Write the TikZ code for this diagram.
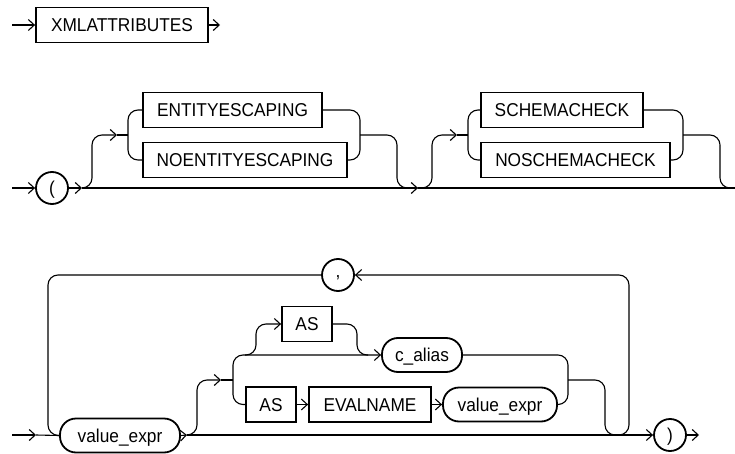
\documentclass[tikz,border=0pt]{standalone}
\usepackage{fontspec}
\setmainfont{Liberation Sans}[FakeStretch=0.93]
\usetikzlibrary{arrows.meta}
\begin{document}
\begin{tikzpicture}[x=1pt,y=-1pt,
  font=\fontsize{18.6}{21}\selectfont,
  line width=1.1pt,
  arr/.style={-{Straight Barb[length=6pt,width=11pt]}},
  rc/.style={rounded corners=10pt},
  kw/.style={draw, line width=1.8pt, rectangle, inner sep=0pt, minimum height=35pt, text height=13.3pt, text depth=0pt},
  nt/.style={draw, line width=1.8pt, rounded corners=16pt, inner sep=0pt, minimum height=34pt, text height=13.3pt, text depth=0pt},
  tm/.style={draw, line width=1.8pt, circle, inner sep=0pt, minimum size=32pt, text height=13.3pt, text depth=0pt}]
\useasboundingbox (0,0) rectangle (735,454);

% Row 1
\coordinate (s1) at (12,25);
\node[kw, minimum width=172pt] (xml) at (122,25) {XMLATTRIBUTES};
\coordinate (e1) at (220,25);
\draw[arr] (s1) -- (xml.west);
\draw[arr] (xml.east) -- (e1);

% Row 2
\coordinate (s2) at (12,188);
\node[tm] (lp) at (52,188) {(};
\coordinate (a2) at (82,188);
\coordinate (m1) at (418,188);
\coordinate (e2) at (735,188);
\draw[arr] (s2) -- (lp.west);
\draw[arr] (lp.east) -- (a2);
\draw[arr] (a2) -- (m1);
\draw (m1) -- (e2);

\node[kw, minimum width=179pt] (ent) at (232.5,110) {ENTITYESCAPING};
\node[kw, minimum width=204pt] (noent) at (245,160) {NOENTITYESCAPING};
\coordinate (b1in) at (117,135);
\coordinate (b1l) at (128,135);
\coordinate (b1r) at (360,135);
\draw[rc, arr] (a2) -- (92,188) -- (92,135) -- (b1in);
\draw (b1in) -- (b1l);
\draw[rc] (ent.west) -- (128,110) -- (128,160) -- (noent.west);
\draw[rc] (ent.east) -- (360,110) -- (360,160) -- (noent.east);
\draw[rc] (b1r) -- (397,135) -- (397,188) -- (m1);

\node[kw, minimum width=162pt] (sch) at (562,110) {SCHEMACHECK};
\node[kw, minimum width=189pt] (nosch) at (575.5,160) {NOSCHEMACHECK};
\coordinate (b2in) at (457,135);
\coordinate (b2l) at (468,135);
\coordinate (b2r) at (683,135);
\draw[rc, arr] (m1) -- (432,188) -- (432,135) -- (b2in);
\draw (b2in) -- (b2l);
\draw[rc] (sch.west) -- (468,110) -- (468,160) -- (nosch.west);
\draw[rc] (sch.east) -- (683,110) -- (683,160) -- (nosch.east);
\draw[rc] (b2r) -- (720,135) -- (720,188) -- (e2);

% Row 3
\coordinate (s3) at (12,435);
\coordinate (a3) at (36,435);
\node[nt, minimum width=120pt] (ve1) at (120,435.5) {value\_expr};
\coordinate (a4) at (187,435);
\node[tm] (rp) at (670,435) {)};
\coordinate (e3) at (699,435);
\draw[arr] (s3) -- (a3);
\draw (a3) -- (ve1.west);
\draw[arr] (ve1.east) -- (a4);
\draw[arr] (a4) -- (rp.west);
\draw[arr] (rp.east) -- (e3);

\node[tm, text height=4pt] (comma) at (338,275) {,};
\coordinate (lp1) at (612,435);
\draw[rc, arr] (lp1) -- (629,435) -- (629,275) -- (comma.east);
\draw[rc] (comma.west) -- (48,275) -- (48,435) -- (ve1.west);

\coordinate (b3in) at (221,380);
\coordinate (b3l) at (233,380);
\draw[rc, arr] (a4) -- (197,435) -- (197,380) -- (b3in);
\draw (b3in) -- (b3l);
\node[kw, minimum width=50pt] (as1) at (307,324) {AS};
\node[nt, minimum width=80pt] (ca) at (422,355) {c\_alias};
\node[kw, minimum width=50pt] (as2) at (271,404.5) {AS};
\node[kw, minimum width=122pt] (ev) at (370,404.5) {EVALNAME};
\node[nt, minimum width=114pt] (ve2) at (500,404.5) {value\_expr};
\coordinate (o1) at (245,355);
\coordinate (o2) at (368,355);
\coordinate (b4r) at (568,380);
\coordinate (j4) at (617,435);
\draw[rc, arr] (as2.west) -- (233,404.5) -- (233,355) -- (ca.west);
\draw[rc, arr] (o1) -- (256,355) -- (256,324) -- (as1.west);
\draw[rc] (as1.east) -- (357,324) -- (357,355) -- (o2);
\draw[arr] (as2.east) -- (ev.west);
\draw[arr] (ev.east) -- (ve2.west);
\draw[rc] (ca.east) -- (568,355) -- (568,404.5) -- (ve2.east);
\draw[rc] (b4r) -- (605,380) -- (605,435) -- (j4);
\end{tikzpicture}
\end{document}
